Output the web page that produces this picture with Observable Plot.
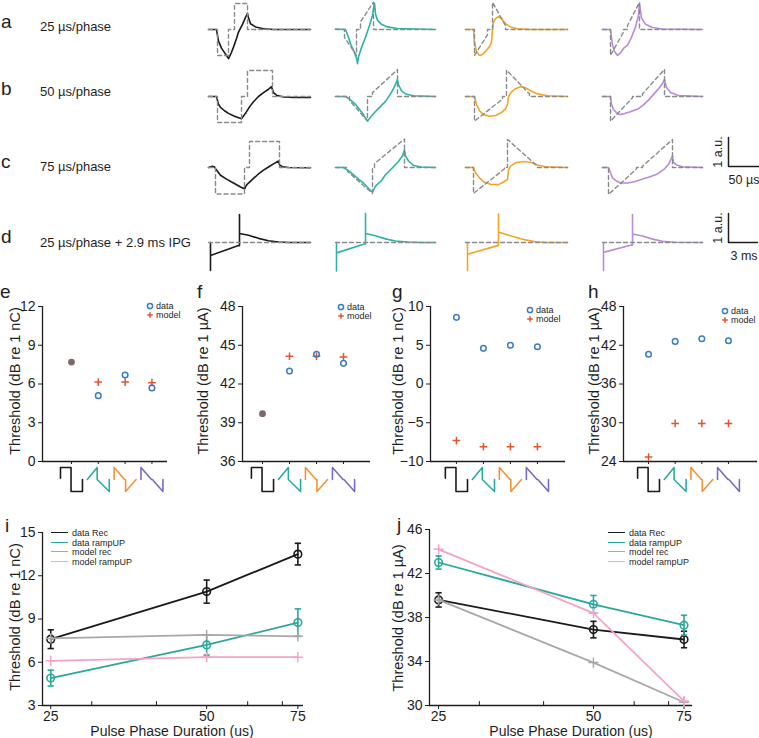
<!DOCTYPE html>
<html>
<head>
<meta charset="utf-8">
<script src="https://cdn.jsdelivr.net/npm/d3@7"></script>
<script src="https://cdn.jsdelivr.net/npm/@observablehq/plot@0.6"></script>
<style>
  html,body{margin:0;padding:0;background:#fff;}
  #fig{position:relative;width:759px;height:738px;overflow:hidden;background:#fff;font-family:"Liberation Sans",Arial,sans-serif;color:#1e1e1e;}
  #fig .t{position:absolute;white-space:nowrap;line-height:1;}
  #fig .p{position:absolute;line-height:0;}
</style>
</head>
<body>
<div id="fig"></div>
<script>
// ===================== DATA =====================
// Waveform panels a–d: [time (a.u.; 30 units ≈ 50 µs in rows a–c), amplitude (a.u.)]
const rowLetters = ["a", "b", "c", "d"];
const rowTexts = ["25 µs/phase", "50 µs/phase", "75 µs/phase", "25 µs/phase + 2.9 ms IPG"];
const waveTypes = ["Rec", "rampUP", "rampDOWN", "rampMIX"];
const waveColors = ["#1a1a1a", "#2db3a6", "#f2a42a", "#b98bdb"];

const respA = [
  [[0,0],[8,0],[10,-0.45],[13,-0.72],[17,-0.95],[20,-1.12],[23,-0.88],[25,-0.68],[28,-0.35],[30,-0.1],[34,0.2],[37,0.47],[39,0.62],[40,0.45],[42,0.22],[47,0.1],[55,0.03],[65,0],[102,0]],
  [[0,0.02],[10,0],[13,-0.3],[15,-0.55],[18,-0.8],[21,-1.1],[22,-1.32],[23,-1.05],[26,-0.7],[30,-0.3],[34,0.15],[37,0.55],[39,1.02],[40,0.6],[42,0.35],[46,0.2],[52,0.1],[62,0.04],[100,0]],
  [[0,0],[8,0],[9,-0.5],[11,-0.85],[13,-0.97],[15,-1.0],[18,-0.93],[21,-0.8],[24,-0.66],[26,-0.5],[27,0.0],[28,0.28],[30,0.42],[33,0.5],[36,0.42],[40,0.22],[45,0.1],[52,0.03],[65,0],[102,0]],
  [[0,0],[8,0],[10,-0.6],[12,-0.85],[15,-1.0],[18,-0.9],[21,-0.73],[25,-0.6],[29,-0.3],[33,0.1],[36,0.55],[37,1.0],[39,0.45],[43,0.2],[50,0.08],[60,0.02],[100,0]]
];
const stimA = [
  [[0,0],[9,0],[9,-1],[20,-1],[20,0],[26,0],[26,1],[39,1],[39,0],[102,0]],
  [[0,0],[9,0],[9,-0.3],[21,-1],[21,0],[25,0],[25,0.3],[38,1.05],[38,0],[100,0]],
  [[0,0],[9,0],[9,-1],[22,-0.2],[22,0],[27,0],[27,1.05],[40,0.15],[40,0],[102,0]],
  [[0,0],[8,0],[8,-1],[21,-0.1],[21,0],[25,0],[25,0.15],[37,1.05],[37,0],[100,0]]
];
const respB = [
  [[0,0],[8,0],[10,-0.3],[12,-0.42],[16,-0.55],[20,-0.65],[26,-0.76],[33,-0.86],[35,-0.75],[37,-0.65],[41,-0.4],[45,-0.2],[50,0.0],[55,0.15],[60,0.28],[63,0.38],[65,0.15],[68,0.05],[75,-0.02],[85,-0.04],[102,-0.04]],
  [[0,0],[10,0],[14,-0.1],[20,-0.3],[27,-0.65],[32,-0.95],[36,-0.75],[40,-0.58],[45,-0.38],[50,-0.19],[55,0.1],[58,0.3],[62,0.65],[63,0.45],[66,0.22],[70,0.1],[78,0.03],[100,0]],
  [[0,0],[9,0],[11,-0.3],[14,-0.55],[18,-0.7],[24,-0.76],[30,-0.73],[36,-0.62],[40,-0.48],[42,-0.3],[43,0.0],[46,0.18],[50,0.3],[55,0.38],[60,0.34],[65,0.22],[72,0.1],[82,0.03],[102,0]],
  [[0,0],[8,0],[9,-0.3],[11,-0.5],[14,-0.62],[17,-0.7],[22,-0.66],[27,-0.6],[36,-0.47],[41,-0.32],[46,-0.14],[52,0.12],[56,0.3],[60,0.5],[62,0.66],[64,0.35],[68,0.15],[76,0.04],[100,0]]
];
const stimB = [
  [[0,0],[9,0],[9,-1],[33,-1],[33,0],[39,0],[39,1],[64,1],[64,0],[102,0]],
  [[0,0],[14,0],[14,-0.15],[32,-0.95],[32,0],[37,0],[37,0.15],[62,1.04],[62,0],[100,0]],
  [[0,0],[9,0],[9,-0.95],[37,-0.1],[37,0],[41,0],[41,1.02],[64,0.1],[64,0],[102,0]],
  [[0,0],[8,0],[8,-0.95],[30,-0.05],[30,0],[40,0],[40,0.1],[62,1.05],[62,0],[100,0]]
];
const respC = [
  [[0,0],[4,0.05],[6,0.02],[8,-0.1],[12,-0.3],[18,-0.45],[25,-0.6],[32,-0.75],[36,-0.82],[38,-0.68],[40,-0.6],[45,-0.42],[50,-0.25],[55,-0.1],[60,0.02],[65,0.14],[70,0.25],[71,0.1],[74,0.03],[80,0],[102,-0.01]],
  [[0,0],[8,0],[14,-0.15],[20,-0.35],[28,-0.6],[34,-0.85],[37,-0.95],[40,-0.72],[46,-0.5],[50,-0.28],[56,-0.05],[63,0.23],[67,0.45],[69,0.68],[70,0.45],[73,0.25],[78,0.08],[86,0.02],[100,0]],
  [[0,0],[8,0],[10,-0.2],[14,-0.4],[18,-0.55],[25,-0.65],[33,-0.66],[38,-0.56],[42,-0.46],[43,-0.1],[45,0.05],[50,0.18],[58,0.23],[65,0.2],[72,0.1],[80,0.03],[102,0]],
  [[0,0],[6,0],[8,-0.2],[10,-0.4],[13,-0.5],[18,-0.6],[25,-0.6],[32,-0.55],[38,-0.47],[46,-0.38],[55,-0.25],[62,-0.05],[66,0.12],[70,0.45],[71,0.2],[74,0.1],[80,0.03],[100,0]]
];
const stimC = [
  [[0,0],[7,0],[7,-1.02],[36,-1.02],[36,0],[41,0],[41,1.0],[71,1.0],[71,0],[102,0]],
  [[0,0],[12,0],[12,-0.15],[37,-1.0],[37,0],[39,0],[39,0.15],[69,1.1],[69,0],[100,0]],
  [[0,0],[8,0],[8,-1],[39,-0.05],[39,0],[42,0],[42,1.08],[72,0.05],[72,0],[102,0]],
  [[0,0],[6,0],[6,-1.04],[34,-0.05],[34,0],[40,0],[40,0.05],[70,1.08],[70,0],[100,0]]
];
const respD = [
  [[2,0],[2,-1.08],[2,-0.5],[30,-0.12],[31,-0.12],[31,1.08],[31,0.35],[40,0.28],[50,0.16],[60,0.07],[70,0.02],[80,0],[102,0]],
  [[1,0],[1,-1.1],[1,-0.4],[29,-0.06],[30,-0.06],[30,1.12],[30,0.35],[40,0.26],[50,0.14],[60,0.06],[72,0.02],[85,0],[100,0]],
  [[2,0],[2,-1.08],[2,-0.45],[32,-0.12],[33,-0.12],[33,1.1],[33,0.4],[40,0.32],[50,0.2],[60,0.1],[70,0.03],[80,0],[102,0]],
  [[1,0],[1,-1.08],[1,-0.38],[29,-0.1],[30,-0.1],[30,1.08],[30,0.33],[40,0.25],[50,0.13],[60,0.05],[72,0.01],[100,0]]
];
const stimD = [
  [[0,0],[102,0]],
  [[0,0],[100,0]],
  [[0,0],[102,0]],
  [[0,0],[100,0]]
];
// scale bars: [amplitude length (a.u.), duration length (time units), labels]
const scaleBarAmp = [1.12, 1.12];
const scaleBarDur = [31, 29];
const scaleBarLabels = [["1 a.u.", "50 µs"], ["1 a.u.", "3 ms"]];

// Panels e–h: thresholds per waveform type (category 1..4)
const ehLetters = ["e", "f", "g", "h"];
const ehTitles = ["Threshold (dB re 1 nC)", "Threshold (dB re 1 µA)", "Threshold (dB re 1 nC)", "Threshold (dB re 1 µA)"];
const eData = [7.7, 5.1, 6.7, 5.7],   eModel = [7.7, 6.15, 6.15, 6.1];
const fData = [39.7, 43.0, 44.3, 43.6], fModel = [39.7, 44.15, 44.15, 44.1];
const gData = [8.6, 4.6, 5.0, 4.8],   gModel = [-7.3, -8.1, -8.1, -8.1];
const hData = [40.6, 42.6, 43.0, 42.7], hModel = [24.7, 29.9, 29.9, 29.9];
const eTicks = [0, 3, 6, 9, 12];
const fTicks = [36, 39, 42, 45, 48];
const gTicks = [-10, -5, 0, 5, 10];
const hTicks = [24, 30, 36, 42, 48];
const legendEH = ["data", "model"];
// waveform icons: [u, v] in unit box
const iconRec  = [[0,0.55],[0,1],[0.48,1],[0.48,0],[1,0],[1,0.5]];
const iconUp   = [[0,0.5],[0.45,1],[0.45,0.5],[1,0],[1,0.5]];
const iconDown = [[0,0.5],[0,1],[0.48,0.5],[0.52,0.5],[0.52,0],[1,0.5]];
const iconMix  = [[0,0.5],[0,1],[0.48,0.5],[0.52,0.5],[1,0],[1,0.5]];
const iconColors = ["#1a1a1a", "#2aab9f", "#f0943c", "#7a69c6"];

// Panels i, j: threshold vs pulse phase duration
const durations = [25, 50, 75];
const durationTicks = [25, 50, 75];
const durationMinorTicks = [30, 40, 60, 70];
const seriesNames = ["data Rec", "data rampUP", "model rec", "model rampUP"];
const seriesColors = ["#1a1a1a", "#2aa89c", "#a8a8a8", "#f4a3c6"];
const iDataRec = [7.6, 10.9, 13.5],  iDataRecErr = [0.65, 0.8, 0.75];
const iDataUp  = [4.9, 7.2, 8.75],   iDataUpErr  = [0.55, 0.7, 0.95];
const iModelRec = [7.65, 7.9, 7.8];
const iModelUp  = [6.1, 6.35, 6.35];
const jDataRec = [39.6, 36.9, 36.0], jDataRecErr = [0.65, 0.75, 0.75];
const jDataUp  = [43.0, 39.2, 37.3], jDataUpErr  = [0.6, 0.8, 0.9];
const jModelRec = [39.6, 33.9, 30.3];
const jModelUp  = [44.2, 38.4, 30.4];
const iTicks = [3, 6, 9, 12, 15];
const jTicks = [30, 34, 38, 42, 46];
const xTitle = "Pulse Phase Duration (us)";

// ===================== RENDER =====================
const fig = document.getElementById("fig");
const ink = "#1e1e1e";
const dataColor = "#3a7cc4", modelColor = "#e2552b", overlapColor = "#7f6767";
const plotStyle = {background: "transparent", overflow: "visible", maxWidth: "none",
  fontFamily: '"Liberation Sans", Arial, sans-serif', fontSize: "14px", color: ink};

function place(node, left, top) {
  const d = document.createElement("div");
  d.className = "p"; d.style.left = left + "px"; d.style.top = top + "px";
  d.appendChild(node); fig.appendChild(d); return d;
}
function text(str, x, y, size, anchor = "start", rotate = 0) {
  const d = document.createElement("div");
  d.className = "t"; d.textContent = str;
  d.style.fontSize = size + "px"; d.style.left = x + "px"; d.style.top = y + "px";
  const tx = anchor === "middle" ? "-50%" : anchor === "end" ? "-100%" : "0";
  d.style.transform = `translate(${tx},-50%)` + (rotate ? ` rotate(${rotate}deg)` : "");
  fig.appendChild(d); return d;
}
function glyph(svgInner, cx, cy, s = 10) {
  const d = document.createElement("div");
  d.className = "p"; d.style.left = (cx - s / 2) + "px"; d.style.top = (cy - s / 2) + "px";
  d.innerHTML = `<svg width="${s}" height="${s}" viewBox="0 0 ${s} ${s}">${svgInner}</svg>`;
  fig.appendChild(d);
}

// ---- rows a–d ----
const responses = [respA, respB, respC, respD];
const stimuli = [stimA, stimB, stimC, stimD];
const cellLeft = [208, 335, 465, 602];
const rowBase = [29, 95.5, 167, 242];
const letterBase = [28, 95, 168, 243];
const rowTextY = [26, 91, 166, 242];
rowLetters.forEach((L, i) => {
  text(L, 1, letterBase[i] - 6.6, 19);
  text(rowTexts[i], 40, rowTextY[i], 13);
  waveTypes.forEach((w, j) => {
    const svg = Plot.plot({
      width: 104, height: 70, margin: 0, style: plotStyle,
      x: {domain: [0, 104], axis: null}, y: {domain: [-1.35, 1.35], axis: null},
      marks: [
        Plot.line(responses[i][j], {x: d => d[0], y: d => d[1], stroke: waveColors[j], strokeWidth: 1.6}),
        Plot.line(stimuli[i][j], {x: d => d[0], y: d => d[1], stroke: "#8a8a8a", strokeWidth: 1.4, strokeDasharray: "4,3"})
      ]
    });
    place(svg, cellLeft[j], rowBase[i] - 35);
  });
});
// scale bars (rows c and d)
const barBase = [166, 242];
scaleBarAmp.forEach((amp, k) => {
  const svg = Plot.plot({
    width: 40, height: 70, margin: 0, style: plotStyle,
    x: {domain: [0, 40], axis: null}, y: {domain: [-1.35, 1.35], axis: null},
    marks: [Plot.line([[0, amp], [0, 0], [scaleBarDur[k], 0]], {x: d => d[0], y: d => d[1], stroke: ink, strokeWidth: 1.5})]
  });
  place(svg, 728, barBase[k] - 35);
  text(scaleBarLabels[k][0], 718, barBase[k] - 14.5, 12.5, "middle", -90);
  text(scaleBarLabels[k][1], 744, barBase[k] + 14, 12.5, "middle");
});

// ---- panels e–h ----
const ehData = [eData, fData, gData, hData];
const ehModel = [eModel, fModel, gModel, hModel];
const ehTicks = [eTicks, fTicks, gTicks, hTicks];
const ehLayout = [
  {left: 0,   width: 175, mr: 8, xd: [-0.08, 4.58], letterX: 0,   titleX: 15,  legX: 150},
  {left: 200, width: 178, mr: 8, xd: [0.26, 5.0],   letterX: 197, titleX: 203, legX: 341},
  {left: 388, width: 185, mr: 8, xd: [0.04, 5.04],  letterX: 392, titleX: 398, legX: 530},
  {left: 581, width: 178, mr: 2, xd: [0.06, 5.09],  letterX: 588, titleX: 594, legX: 725}
];
const legY = [306, 307, 310, 311];
const iconShapes = [iconRec, iconUp, iconDown, iconMix];
ehLetters.forEach((letter, k) => {
  const L = ehLayout[k];
  const yd = [ehTicks[k][0], ehTicks[k][ehTicks[k].length - 1]];
  const pts = ehData[k].map((v, i) => ({cat: i + 1, data: v, model: ehModel[k][i]}));
  const same = pts.filter(p => Math.abs(p.data - p.model) < 0.05);
  const diff = pts.filter(p => Math.abs(p.data - p.model) >= 0.05);
  const svg = Plot.plot({
    width: L.width, height: 175, marginLeft: 42, marginRight: L.mr, marginTop: 16, marginBottom: 4,
    style: plotStyle,
    x: {domain: L.xd, ticks: [1, 2, 3, 4], tickFormat: () => "", tickSize: 3, label: null},
    y: {domain: yd, ticks: ehTicks[k], tickSize: 4, tickPadding: 3, label: null},
    marks: [
      Plot.ruleX([L.xd[0]], {stroke: ink, strokeWidth: 1.3}),
      Plot.ruleY([yd[0]], {stroke: ink, strokeWidth: 1.3}),
      Plot.dot(diff, {x: "cat", y: "model", symbol: "plus", r: 2.6, stroke: modelColor, strokeWidth: 1.5}),
      Plot.dot(diff, {x: "cat", y: "data", r: 2.8, stroke: dataColor, strokeWidth: 1.5, fill: "none"}),
      Plot.dot(same, {x: "cat", y: "data", r: 3.4, fill: overlapColor, stroke: "none"})
    ]
  });
  place(svg, L.left, 290);
  const icons = Plot.plot({
    width: L.width, height: 26, marginLeft: 42, marginRight: L.mr, marginTop: 1, marginBottom: 1,
    style: plotStyle, x: {domain: L.xd, axis: null}, y: {domain: [0, 1], axis: null},
    marks: iconShapes.map((shape, j) => Plot.line(shape, {
      x: d => (j + 1) - 0.41 + 0.82 * d[0], y: d => d[1], stroke: iconColors[j], strokeWidth: 1.6
    }))
  });
  place(icons, L.left, 466);
  text(letter, L.letterX, 298 - 6.6, 19);
  text(ehTitles[k], L.titleX, 381, 14.5, "middle", -90);
  glyph(`<circle cx="5" cy="5" r="2.6" fill="none" stroke="${dataColor}" stroke-width="1.5"/>`, L.legX, legY[k]);
  glyph(`<path d="M5 2.2V7.8M2.2 5H7.8" stroke="${modelColor}" stroke-width="1.5"/>`, L.legX, legY[k] + 9.2);
  text(legendEH[0], L.legX + 6, legY[k], 9);
  text(legendEH[1], L.legX + 6, legY[k] + 9.2, 9);
});

// ---- panels i, j ----
function linePanel(cfg) {
  const values = cfg.values, errs = cfg.errs, yd = [cfg.ticks[0], cfg.ticks[cfg.ticks.length - 1]];
  const span = yd[1] - yd[0];
  const marks = [
    Plot.ruleX([cfg.xd[0]], {stroke: ink, strokeWidth: 1.3}),
    Plot.ruleY([yd[0]], {stroke: ink, strokeWidth: 1.3}),
    Plot.ruleX(durationMinorTicks, {x: d => d, y1: yd[0], y2: yd[0] + span * 0.022, stroke: ink, strokeWidth: 1})
  ];
  seriesNames.forEach((name, s) => {
    const c = seriesColors[s];
    const recs = durations.map((d, k) => ({x: d, y: values[s][k], e: errs[s] ? errs[s][k] : 0}));
    marks.push(Plot.line(recs, {x: "x", y: "y", stroke: c, strokeWidth: 1.8}));
    if (errs[s]) {
      marks.push(Plot.ruleX(recs, {x: "x", y1: d => d.y - d.e, y2: d => d.y + d.e, stroke: c, strokeWidth: 1.6}));
      const caps = recs.flatMap(d => [d.y - d.e, d.y + d.e].map(y => ({x: d.x, y})));
      marks.push(Plot.link(caps, {x1: d => d.x * 0.986, x2: d => d.x * 1.014, y1: "y", y2: "y", stroke: c, strokeWidth: 1.6}));
      marks.push(Plot.dot(recs, {x: "x", y: "y", r: 3.8, stroke: c, strokeWidth: 1.6, fill: "none"}));
    } else {
      marks.push(Plot.dot(recs, {x: "x", y: "y", symbol: "plus", r: 3.4, stroke: c, strokeWidth: 1.5}));
    }
  });
  const svg = Plot.plot({
    width: cfg.width, height: cfg.height, marginLeft: 42, marginRight: 7, marginTop: 16, marginBottom: 33,
    style: plotStyle,
    x: {type: "log", domain: cfg.xd, ticks: durationTicks, tickFormat: d => String(d), tickSize: 4, tickPadding: 1.5, label: null},
    y: {domain: yd, ticks: cfg.ticks, tickSize: 4, tickPadding: 3, label: null},
    marks
  });
  place(svg, cfg.left, cfg.top);
  text(cfg.letter, cfg.letterX, cfg.letterBase - 6.6, 19);
  text(cfg.title, cfg.titleX, cfg.titleY, 14.5, "middle", -90);
  text(xTitle, cfg.xTitleX, 731, 14, "middle");
  seriesNames.forEach((name, s) => {
    const y = cfg.legY[s];
    const ln = document.createElement("div");
    ln.className = "p";
    ln.style.cssText = `left:${cfg.legX}px;top:${y - 0.8}px;width:17px;height:0;border-top:1.6px solid ${seriesColors[s]};`;
    fig.appendChild(ln);
    text(name, cfg.legX + 21, y, 9);
  });
}
linePanel({values: [iDataRec, iDataUp, iModelRec, iModelUp], errs: [iDataRecErr, iDataUpErr, null, null],
  ticks: iTicks, xd: [24.1, 76.9], left: 0, top: 516, width: 310, height: 222,
  letter: "i", letterX: 5, letterBase: 532, title: "Threshold (dB re 1 nC)", titleX: 15, titleY: 617,
  xTitleX: 172, legX: 51, legY: [533, 542.5, 552, 561.5]});
linePanel({values: [jDataRec, jDataUp, jModelRec, jModelUp], errs: [jDataRecErr, jDataUpErr, null, null],
  ticks: jTicks, xd: [24.0, 77.9], left: 387, top: 513, width: 312, height: 225,
  letter: "j", letterX: 397, letterBase: 531, title: "Threshold (dB re 1 µA)", titleX: 398, titleY: 618,
  xTitleX: 571, legX: 608, legY: [533, 543, 552, 561.5]});
</script>
</body>
</html>
